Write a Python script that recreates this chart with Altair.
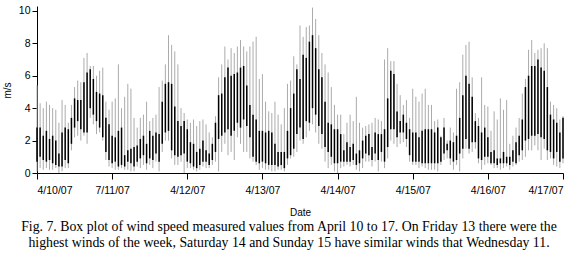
import altair as alt
import pandas as pd

# hourly box statistics (m/s), 4/10/07 00:00 .. 4/17/07 00:00
whisker_hi = [
    5.4, 4.3, 4.0, 4.4, 4.2, 4.0, 3.9, 3.1, 4.5, 4.2, 3.1, 4.2, 5.3, 5.7, 5.6, 7.1, 7.4, 6.6, 6.6, 6.0, 6.3, 6.5, 4.4, 3.9,
    4.4, 4.6, 6.7, 4.0, 4.7, 5.5, 5.2, 3.4, 2.8, 3.4, 3.6, 4.4, 3.2, 3.4, 3.6, 5.3, 5.7, 6.7, 8.5, 7.9, 7.5, 6.7, 4.0, 3.7,
    3.3, 3.1, 3.3, 2.9, 3.2, 3.3, 3.0, 2.5, 2.2, 3.5, 5.9, 6.7, 7.8, 7.0, 7.7, 7.4, 7.8, 8.2, 7.8, 7.5, 7.8, 8.1, 8.4, 5.8,
    6.1, 4.4, 3.8, 3.7, 4.4, 3.6, 3.0, 4.0, 5.5, 5.7, 7.2, 6.7, 9.1, 8.4, 9.0, 9.1, 10.2, 9.5, 8.5, 7.4, 6.7, 6.2, 5.3, 4.2,
    3.6, 3.6, 2.4, 3.1, 3.6, 3.2, 4.7, 3.1, 2.8, 2.9, 3.0, 3.1, 3.4, 3.3, 3.2, 7.0, 7.7, 6.9, 6.9, 5.5, 4.8, 4.2, 4.5, 3.4,
    5.2, 4.7, 4.4, 4.9, 5.2, 4.2, 4.2, 3.2, 3.3, 2.3, 3.4, 2.0, 2.8, 2.5, 5.2, 5.6, 7.3, 7.9, 8.1, 5.9, 3.7, 3.4, 5.9, 4.2,
    4.1, 2.6, 3.8, 3.3, 4.6, 3.9, 4.5, 1.8, 2.3, 2.8, 3.4, 4.9, 5.8, 7.6, 8.2, 7.4, 7.6, 7.7, 8.0, 7.7, 4.4, 4.2, 4.0, 3.3,
    3.5,
]
box_q3 = [
    2.8, 2.8, 2.3, 2.6, 2.1, 2.3, 2.0, 1.2, 2.5, 2.8, 2.7, 3.4, 4.6, 4.5, 4.5, 5.6, 6.2, 6.4, 5.8, 5.0, 4.9, 4.8, 3.4, 3.0,
    2.3, 2.2, 2.6, 2.8, 1.1, 1.4, 1.5, 1.6, 1.7, 2.1, 2.3, 1.8, 2.6, 2.3, 2.5, 2.4, 4.4, 5.5, 5.6, 5.5, 4.1, 3.2, 2.9, 3.2,
    2.7, 1.9, 1.8, 1.3, 1.5, 2.0, 1.4, 1.2, 1.8, 3.1, 4.8, 4.9, 5.9, 6.5, 6.0, 6.1, 6.2, 6.5, 6.6, 5.4, 4.2, 3.6, 3.3, 2.6,
    2.6, 2.5, 2.6, 2.5, 1.8, 1.3, 1.3, 1.3, 2.6, 4.0, 4.9, 6.4, 5.8, 7.3, 7.1, 8.1, 8.5, 7.7, 6.4, 5.9, 4.4, 3.1, 3.0, 2.7,
    2.7, 2.4, 1.4, 1.9, 1.6, 1.8, 1.2, 1.4, 2.0, 2.3, 2.4, 1.6, 2.5, 2.4, 2.4, 2.7, 4.6, 6.3, 6.1, 3.8, 3.2, 3.6, 3.1, 2.7,
    2.5, 2.5, 2.2, 2.6, 2.7, 2.7, 2.7, 2.5, 2.8, 2.2, 2.8, 1.8, 2.0, 1.9, 2.3, 3.4, 4.8, 6.0, 5.5, 4.7, 3.2, 2.9, 2.5, 2.8,
    2.2, 1.3, 1.4, 0.9, 0.9, 1.3, 1.0, 1.0, 1.4, 1.9, 2.3, 3.3, 5.3, 6.0, 6.6, 6.6, 7.0, 6.5, 6.3, 5.3, 3.6, 3.3, 3.1, 2.5,
    3.4,
]
box_q1 = [
    0.7, 1.0, 0.8, 0.7, 0.8, 0.6, 0.5, 0.4, 0.4, 0.8, 0.6, 1.8, 2.8, 3.2, 2.7, 2.5, 2.5, 4.0, 3.6, 3.2, 2.8, 2.2, 1.3, 0.8,
    0.6, 0.7, 0.4, 0.5, 0.4, 0.7, 0.6, 0.4, 0.7, 0.9, 1.1, 0.6, 0.9, 0.8, 1.2, 0.7, 1.8, 2.5, 2.6, 1.4, 1.1, 1.0, 1.1, 1.2,
    0.7, 0.6, 0.4, 0.3, 0.5, 0.7, 0.7, 0.5, 0.8, 1.3, 2.1, 2.3, 2.5, 2.7, 2.3, 2.6, 3.1, 2.8, 3.3, 2.9, 2.2, 1.0, 0.7, 0.6,
    0.7, 0.6, 0.5, 0.5, 0.5, 0.4, 0.5, 0.3, 0.9, 1.1, 1.5, 2.4, 2.8, 2.1, 3.2, 3.1, 4.0, 3.6, 2.9, 2.4, 1.6, 1.3, 1.0, 0.6,
    0.6, 0.7, 0.7, 0.7, 0.7, 0.8, 0.5, 0.6, 0.9, 1.2, 1.1, 0.8, 1.2, 0.8, 1.3, 0.7, 1.6, 2.7, 2.7, 2.2, 2.5, 2.5, 2.1, 1.1,
    0.7, 0.7, 0.7, 0.6, 0.6, 0.6, 0.6, 0.6, 0.6, 0.7, 1.2, 1.4, 0.9, 0.7, 0.8, 1.2, 1.5, 2.1, 1.5, 1.9, 1.9, 0.9, 0.8, 1.0,
    1.0, 0.6, 0.6, 0.5, 0.6, 0.6, 0.6, 0.5, 0.7, 0.6, 1.1, 1.4, 2.0, 2.1, 2.3, 2.3, 2.4, 2.2, 2.1, 1.4, 1.3, 0.9, 1.3, 0.7,
    0.9,
]
whisker_lo = [
    0.1, 0.3, 0.2, 0.3, 0.2, 0.2, 0.3, 0.0, 0.1, 0.3, 0.3, 1.4, 2.2, 2.3, 2.0, 2.3, 1.8, 3.4, 3.0, 2.4, 2.5, 2.0, 0.8, 0.4,
    0.3, 0.2, 0.2, 0.3, 0.2, 0.2, 0.1, 0.1, 0.4, 0.3, 0.5, 0.2, 0.5, 0.3, 0.7, 0.1, 1.3, 2.0, 2.0, 0.9, 0.5, 0.5, 0.7, 0.0,
    0.3, 0.3, 0.2, 0.1, 0.2, 0.4, 0.3, 0.3, 0.5, 0.7, 0.1, 1.3, 1.8, 1.1, 1.3, 0.8, 2.2, 1.8, 1.3, 1.3, 0.9, 0.7, 0.5, 0.2,
    0.3, 0.2, 0.2, 0.1, 0.1, 0.2, 0.2, 0.1, 0.5, 0.9, 1.0, 1.3, 2.0, 1.8, 2.2, 2.6, 3.0, 2.5, 1.8, 1.5, 0.7, 0.3, 0.5, 0.1,
    0.0, 0.3, 0.4, 0.5, 0.4, 0.5, 0.2, 0.1, 0.3, 0.7, 0.7, 0.4, 0.7, 0.1, 0.7, 0.3, 0.9, 2.0, 1.8, 1.6, 1.8, 1.9, 1.6, 0.7,
    0.5, 0.5, 0.3, 0.4, 0.3, 0.2, 0.2, 0.2, 0.1, 0.5, 0.8, 0.9, 0.5, 0.2, 0.5, 0.1, 0.9, 1.5, 1.2, 1.3, 1.5, 0.6, 0.2, 0.5,
    0.6, 0.5, 0.3, 0.3, 0.2, 0.3, 0.4, 0.2, 0.4, 0.5, 0.7, 0.8, 1.0, 1.4, 1.4, 1.7, 1.4, 0.8, 1.5, 0.8, 0.9, 0.5, 0.4, 0.3,
    0.6,
]
date_labels = ["4/10/07", "7/11/07", "4/12/07", "4/13/07", "4/14/07", "4/15/07", "4/16/07", "4/17/07"]
y_ticks = [0, 2, 4, 6, 8, 10]
caption = [
    "Fig. 7. Box plot of wind speed measured values from April 10 to 17. On Friday 13 there were the",
    "highest winds of the week, Saturday 14 and Sunday 15 have similar winds that  Wednesday 11.",
]

df = pd.DataFrame({
    "hour": list(range(len(whisker_hi))),
    "lo": whisker_lo,
    "q1": box_q1,
    "q3": box_q3,
    "hi": whisker_hi,
})

tick_hours = [24 * i for i in range(len(date_labels))]
label_expr = "[" + ",".join("'%s'" % s for s in date_labels) + "][round(datum.value / 24)]"

x_scale = alt.Scale(domain=[0, 168], nice=False, zero=False)
y_scale = alt.Scale(domain=[0, 10.3], nice=False)

x_axis = alt.Axis(values=tick_hours, labelExpr=label_expr, title="Date",
                  tickSize=6, labelPadding=6, titleY=39, titleBaseline="middle",
                  titleFontSize=10, labelOverlap=False)
y_axis = alt.Axis(values=y_ticks, title="m/s", tickSize=5, labelPadding=2,
                  titleX=-30, titleY=84, titleAngle=270, titleAlign="center",
                  titleBaseline="middle", titleFontSize=10, labelOverlap=False)

base = alt.Chart(df)

whiskers = base.mark_rule(color="#ababab", strokeWidth=1).encode(
    x=alt.X("hour:Q", scale=x_scale, axis=x_axis),
    y=alt.Y("lo:Q", scale=y_scale, axis=y_axis),
    y2="hi:Q",
)

boxes = base.mark_rule(color="black", strokeWidth=1.5).encode(
    x=alt.X("hour:Q", scale=x_scale, axis=x_axis),
    y=alt.Y("q1:Q", scale=y_scale, axis=y_axis),
    y2="q3:Q",
)

chart = alt.layer(whiskers, boxes).properties(
    width=526,
    height=167,
    padding={"left": 37, "top": 6, "right": 15, "bottom": 84},
    autosize=alt.AutoSizeParams(type="none"),
    background="white",
    title=alt.TitleParams(
        text=caption, orient="bottom", anchor="middle", font="Liberation Serif",
        fontSize=13.8, fontWeight="normal", color="black", offset=3, lineHeight=16, dx=-11,
    ),
).configure_view(stroke=None).configure_axis(
    grid=False,
    domainColor="black",
    tickColor="black",
    labelColor="black",
    titleColor="black",
    labelFont="Liberation Sans",
    titleFont="Liberation Sans",
    labelFontSize=10.5,
    titleFontWeight="normal",
)

chart.save("out.html", embed_options={"renderer": "svg", "actions": False})
